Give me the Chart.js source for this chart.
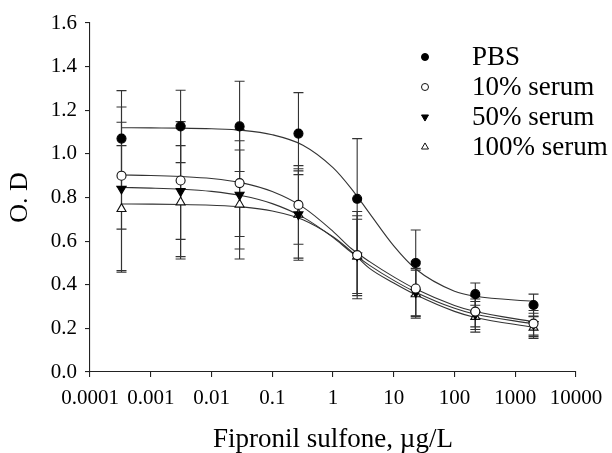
<!DOCTYPE html>
<html>
<head>
<meta charset="utf-8">
<script src="https://cdn.jsdelivr.net/npm/chart.js@4/dist/chart.umd.min.js"></script>
<style>
html,body{margin:0;padding:0;background:#fff;}
#wrap{width:612px;height:453px;}
</style>
</head>
<body>
<div id="wrap"><canvas id="c" width="612" height="453"></canvas></div>
<script>
// ---- data ----
const xValues = [0.00033, 0.0031, 0.029, 0.27, 2.5, 23, 220, 2000];

const pbs        = [1.070, 1.126, 1.126, 1.093, 0.794, 0.500, 0.357, 0.307];
const pbsErr     = [0.220, 0.166, 0.207, 0.188, 0.276, 0.151, 0.051, 0.050];
const serum10    = [0.900, 0.878, 0.866, 0.766, 0.536, 0.383, 0.277, 0.222];
const serum10Err = [0.245, 0.270, 0.245, 0.180, 0.200, 0.125, 0.070, 0.060];
const serum50    = [0.840, 0.829, 0.812, 0.722, 0.533, 0.365, 0.265, 0.219];
const serum50Err = [0.375, 0.300, 0.248, 0.210, 0.183, 0.110, 0.070, 0.050];
const serum100   = [0.748, 0.778, 0.768, 0.722, 0.530, 0.357, 0.253, 0.204];
const serum100Err= [0.290, 0.260, 0.250, 0.200, 0.170, 0.110, 0.070, 0.050];

// fitted curves
const curveX       = [0.00033, 0.001, 0.0032, 0.01, 0.032, 0.1, 0.32, 1, 2, 4, 10, 23, 100, 220, 2000];
const pbsCurve     = [1.120, 1.119, 1.118, 1.115, 1.108, 1.088, 1.040, 0.937, 0.841, 0.727, 0.578, 0.472, 0.370, 0.347, 0.324];
const serum10Curve = [0.903, 0.901, 0.896, 0.887, 0.867, 0.827, 0.756, 0.645, 0.566, 0.506, 0.436, 0.380, 0.305, 0.277, 0.230];
const serum50Curve = [0.846, 0.843, 0.838, 0.828, 0.808, 0.772, 0.710, 0.617, 0.549, 0.489, 0.420, 0.366, 0.292, 0.265, 0.221];
const serum100Curve= [0.770, 0.7695,0.768, 0.7645,0.757, 0.738, 0.698, 0.620, 0.553, 0.475, 0.408, 0.354, 0.278, 0.250, 0.205];

const seriesNames = ['PBS', '10% serum', '50% serum', '100% serum'];
const xTickValues = [0.0001, 0.001, 0.01, 0.1, 1, 10, 100, 1000, 10000];
const xTickLabels = ['0.0001', '0.001', '0.01', '0.1', '1', '10', '100', '1000', '10000'];
const yTickValues = [0, 0.2, 0.4, 0.6, 0.8, 1.0, 1.2, 1.4, 1.6];
const yTickLabels = ['0.0', '0.2', '0.4', '0.6', '0.8', '1.0', '1.2', '1.4', '1.6'];

// ---- styles ----
const FONT = "'Liberation Serif', 'Times New Roman', serif";
const INK = '#222';
const markerStyles = [
  {pointStyle:'circle',   rotation:0,   radius:4.5, bg:'#000', border:'#000'},
  {pointStyle:'circle',   rotation:0,   radius:4.5, bg:'#fff', border:'#111'},
  {pointStyle:'triangle', rotation:180, radius:5.2, bg:'#000', border:'#000'},
  {pointStyle:'triangle', rotation:0,   radius:5.2, bg:'#fff', border:'#111'}
];
const seriesValues = [pbs, serum10, serum50, serum100];
const seriesErrors = [pbsErr, serum10Err, serum50Err, serum100Err];
const curveValues  = [pbsCurve, serum10Curve, serum50Curve, serum100Curve];

const datasets = [];
curveValues.forEach((cv, k) => {
  datasets.push({
    label: seriesNames[k] + ' fit',
    data: curveX.map((x, i) => ({x, y: cv[i]})),
    showLine: true,
    borderColor: '#333',
    borderWidth: 1.1,
    pointRadius: 0,
    fill: false,
    cubicInterpolationMode: 'monotone',
    order: 10
  });
});
seriesValues.forEach((vals, k) => {
  const m = markerStyles[k];
  datasets.push({
    label: seriesNames[k],
    data: xValues.map((x, i) => ({x, y: vals[i]})),
    showLine: false,
    pointStyle: m.pointStyle,
    rotation: m.rotation,
    pointRadius: m.radius,
    pointBackgroundColor: m.bg,
    pointBorderColor: m.border,
    pointBorderWidth: 1.1,
    order: 1
  });
});

const errorBarPlugin = {
  id: 'errorBars',
  beforeDatasetsDraw(chart) {
    const ctx = chart.ctx, xs = chart.scales.x, ys = chart.scales.y;
    ctx.save();
    ctx.strokeStyle = '#333';
    ctx.lineWidth = 1.1;
    seriesValues.forEach((vals, k) => {
      const errs = seriesErrors[k];
      vals.forEach((v, i) => {
        const px = xs.getPixelForValue(xValues[i]);
        const yt = ys.getPixelForValue(v + errs[i]);
        const yb = ys.getPixelForValue(v - errs[i]);
        ctx.beginPath();
        ctx.moveTo(px, yt); ctx.lineTo(px, yb);
        ctx.moveTo(px - 5, yt); ctx.lineTo(px + 5, yt);
        ctx.moveTo(px - 5, yb); ctx.lineTo(px + 5, yb);
        ctx.stroke();
      });
    });
    ctx.restore();
  }
};

const legendPlugin = {
  id: 'customLegend',
  afterDraw(chart) {
    const ctx = chart.ctx;
    const markerX = 425, textX = 472, rowY0 = 57, rowStep = 30;
    ctx.save();
    seriesNames.forEach((name, k) => {
      const m = markerStyles[k];
      const y = rowY0 + k * rowStep;
      ctx.fillStyle = m.bg;
      ctx.strokeStyle = m.border;
      ctx.lineWidth = 1;
      Chart.helpers.drawPoint(ctx, {pointStyle: m.pointStyle, rotation: m.rotation, radius: m.radius * 0.78, borderWidth: 1}, markerX, y);
      ctx.fillStyle = '#000';
      ctx.font = '27px ' + FONT;
      ctx.textBaseline = 'middle';
      ctx.textAlign = 'left';
      ctx.fillText(name, textX, y + 1);
    });
    ctx.restore();
  }
};

new Chart(document.getElementById('c'), {
  type: 'scatter',
  data: {datasets},
  options: {
    responsive: false,
    animation: false,
    devicePixelRatio: 1,
    layout: {padding: {top: 23, right: 36, left: 0, bottom: 0}},
    plugins: {legend: {display: false}, tooltip: {enabled: false}},
    scales: {
      x: {
        type: 'logarithmic',
        min: 0.0001, max: 10000,
        afterBuildTicks(scale) { scale.ticks = xTickValues.map(v => ({value: v})); },
        afterFit(scale) { scale.height = 81; },
        ticks: {
          autoSkip: false, maxRotation: 0, padding: 9,
          color: '#000', font: {family: FONT, size: 21},
          callback(value, index) { return xTickLabels[index]; }
        },
        grid: {drawOnChartArea: false, drawTicks: true, tickLength: 5, color: INK, lineWidth: 1.1},
        border: {display: true, color: INK, width: 1.1},
        title: {display: true, text: 'Fipronil sulfone, µg/L', color: '#000',
                font: {family: FONT, size: 27, lineHeight: 1}, padding: {top: 0, bottom: 0}}
      },
      y: {
        type: 'linear',
        min: 0, max: 1.6,
        afterBuildTicks(scale) { scale.ticks = yTickValues.map(v => ({value: v})); },
        afterFit(scale) { scale.width = 90; },
        ticks: {
          autoSkip: false, padding: 8,
          color: '#000', font: {family: FONT, size: 21},
          callback(value, index) { return yTickLabels[index]; }
        },
        grid: {drawOnChartArea: false, drawTicks: true, tickLength: 5, color: INK, lineWidth: 1.1},
        border: {display: true, color: INK, width: 1.1},
        title: {display: true, text: 'O. D', color: '#000',
                font: {family: FONT, size: 26, lineHeight: 1}, padding: {top: 7, bottom: 0}}
      }
    }
  },
  plugins: [errorBarPlugin, legendPlugin]
});
</script>
</body>
</html>
